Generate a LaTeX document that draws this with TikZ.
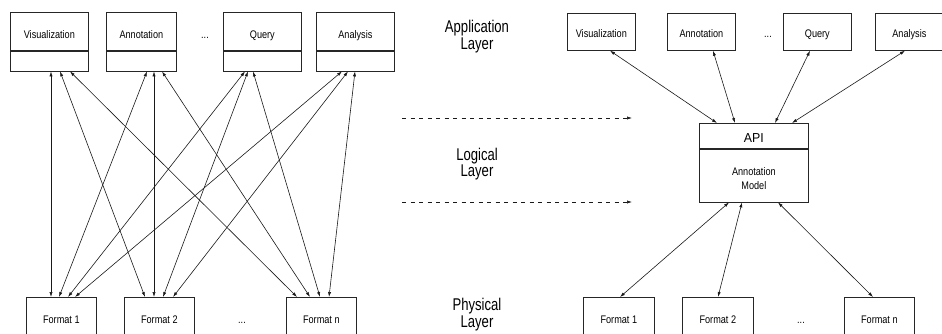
\documentclass[tikz,border=0pt]{standalone}
\usepackage{fontspec}
\setmainfont{Liberation Sans}
\usetikzlibrary{arrows.meta,calc}

% narrow (condensed) lettering
\newcommand\cond[2][0.83]{\scalebox{#1}[1]{#2}}

\begin{document}
\begin{tikzpicture}[x=1pt,y=-1pt,
  ln/.style={draw=black!85, line width=0.7pt},
  box/.style={ln, rectangle, inner sep=0pt, anchor=north west,
    font=\fontsize{11}{13.3}\selectfont},
  tip/.style={},
  link/.style={line width=0.6pt, black!90,
    {Latex[length=5pt,width=3.2pt]}-{Latex[length=5pt,width=3.2pt]}},
  hint/.style={line width=0.6pt, black!90, dash pattern=on 4pt off 4.5pt,
    -{Latex[length=5pt,width=3.2pt]}},
  layer/.style={align=center, font=\fontsize{17}{16.3}\selectfont},
  etc/.style={anchor=base, font=\fontsize{11}{13}\selectfont}
]
\useasboundingbox (0,0) rectangle (942,333);

% ---------------- left: every application talks to every format ----------------
\node[box, minimum width=78pt, minimum height=38pt, text height=14pt, text depth=0pt] (lviz) at (10,12) {\cond{Visualization}};
\node[box, minimum width=78pt, minimum height=20pt] (lvizb) at (lviz.south west) {};
\node[box, minimum width=70pt, minimum height=38pt, text height=14pt, text depth=0pt] (lann) at (106,12) {\cond{Annotation}};
\node[box, minimum width=70pt, minimum height=20pt] (lannb) at (lann.south west) {};
\node[box, minimum width=78pt, minimum height=38pt, text height=14pt, text depth=0pt] (lqry) at (223,12) {\cond{Query}};
\node[box, minimum width=78pt, minimum height=20pt] (lqryb) at (lqry.south west) {};
\node[box, minimum width=78pt, minimum height=38pt, text height=14pt, text depth=0pt] (lana) at (316,12) {\cond{Analysis}};
\node[box, minimum width=78pt, minimum height=20pt] (lanab) at (lana.south west) {};
\node[etc] (ldotsA) at (205,38) {\cond{...}};

\node[box, minimum width=70pt, minimum height=44pt, text height=8pt, text depth=0pt] (lf1) at (26,297) {\cond{Format 1}};
\node[box, minimum width=70pt, minimum height=44pt, text height=8pt, text depth=0pt] (lf2) at (124,297) {\cond{Format 2}};
\node[box, minimum width=70pt, minimum height=44pt, text height=8pt, text depth=0pt] (lfn) at (286,297) {\cond{Format n}};
\node[etc] (ldotsF) at (242,323) {\cond{...}};

\draw[link] ([xshift=41pt]lvizb.south west) -- ([xshift=25pt]lf1.north west);
\draw[link] ([xshift=50pt]lvizb.south west) -- ([xshift=21pt]lf2.north west);
\draw[link] ([xshift=60pt]lvizb.south west) -- ([xshift=11pt]lfn.north west);
\draw[link] ([xshift=41pt]lannb.south west) -- ([xshift=33pt]lf1.north west);
\draw[link] ([xshift=48pt]lannb.south west) -- ([xshift=30pt]lf2.north west);
\draw[link] ([xshift=56pt]lannb.south west) -- ([xshift=24pt]lfn.north west);
\draw[link] ([xshift=22pt]lqryb.south west) -- ([xshift=42pt]lf1.north west);
\draw[link] ([xshift=25pt]lqryb.south west) -- ([xshift=39pt]lf2.north west);
\draw[link] ([xshift=30pt]lqryb.south west) -- ([xshift=34pt]lfn.north west);
\draw[link] ([xshift=26pt]lanab.south west) -- ([xshift=49pt]lf1.north west);
\draw[link] ([xshift=32pt]lanab.south west) -- ([xshift=49pt]lf2.north west);
\draw[link] ([xshift=39pt]lanab.south west) -- ([xshift=43pt]lfn.north west);

% ---------------- layer names and the hint arrows ----------------
\node[layer] (appl) at (477,36.5) {\cond[0.77]{Application}\\\cond[0.77]{Layer}};
\node[layer] (logl) at (477,163.9) {\cond[0.77]{Logical}\\\cond[0.77]{Layer}};
\node[layer] (phyl) at (477,314.5) {\cond[0.77]{Physical}\\\cond[0.77]{Layer}};

\coordinate (h1a) at (402,118);
\coordinate (h1b) at (632,118);
\coordinate (h2a) at (402,202);
\coordinate (h2b) at (632,202);
\draw[hint] (h1a) -- (h1b);
\draw[hint] (h2a) -- (h2b);

% ---------------- right: everything goes through the API ----------------
\node[box, minimum width=68pt, minimum height=37pt, text height=11.6pt, text depth=0pt] (rviz) at (567,13) {\cond{Visualization}};
\node[box, minimum width=68pt, minimum height=37pt, text height=11.6pt, text depth=0pt] (rann) at (667,13) {\cond{Annotation}};
\node[box, minimum width=68pt, minimum height=37pt, text height=11.6pt, text depth=0pt] (rqry) at (783,13) {\cond{Query}};
\node[box, minimum width=68pt, minimum height=37pt, text height=11.6pt, text depth=0pt] (rana) at (875,13) {\cond{Analysis}};
\node[etc] (rdotsA) at (768,37.3) {\cond{...}};

\node[box, minimum width=109pt, minimum height=25pt, text height=12.4pt, text depth=0pt,
  font=\fontsize{13}{15}\selectfont] (api) at (699,123) {\cond[0.95]{API}};
\node[box, minimum width=109pt, minimum height=53pt, align=center] (apim) at (api.south west)
  {\rule{0pt}{14pt}\cond{Annotation}\\\cond{Model}};

\node[box, minimum width=71pt, minimum height=44pt, text height=8pt, text depth=0pt] (rf1) at (583,297) {\cond{Format 1}};
\node[box, minimum width=71pt, minimum height=44pt, text height=8pt, text depth=0pt] (rf2) at (682,297) {\cond{Format 2}};
\node[box, minimum width=70pt, minimum height=44pt, text height=8pt, text depth=0pt] (rfn) at (844,297) {\cond{Format n}};
\node[etc] (rdotsF) at (801,323) {\cond{...}};

\draw[link] ([xshift=43pt]rviz.south west) -- ([xshift=18pt]api.north west);
\draw[link] ([xshift=46pt]rann.south west) -- ([xshift=36pt]api.north west);
\draw[link] ([xshift=27pt]rqry.south west) -- ([xshift=76pt]api.north west);
\draw[link] ([xshift=30pt]rana.south west) -- ([xshift=93pt]api.north west);

\draw[link] ([xshift=30pt]apim.south west) -- ([xshift=37pt]rf1.north west);
\draw[link] ([xshift=43pt]apim.south west) -- ([xshift=36pt]rf2.north west);
\draw[link] ([xshift=79pt]apim.south west) -- ([xshift=29pt]rfn.north west);
\end{tikzpicture}
\end{document}
